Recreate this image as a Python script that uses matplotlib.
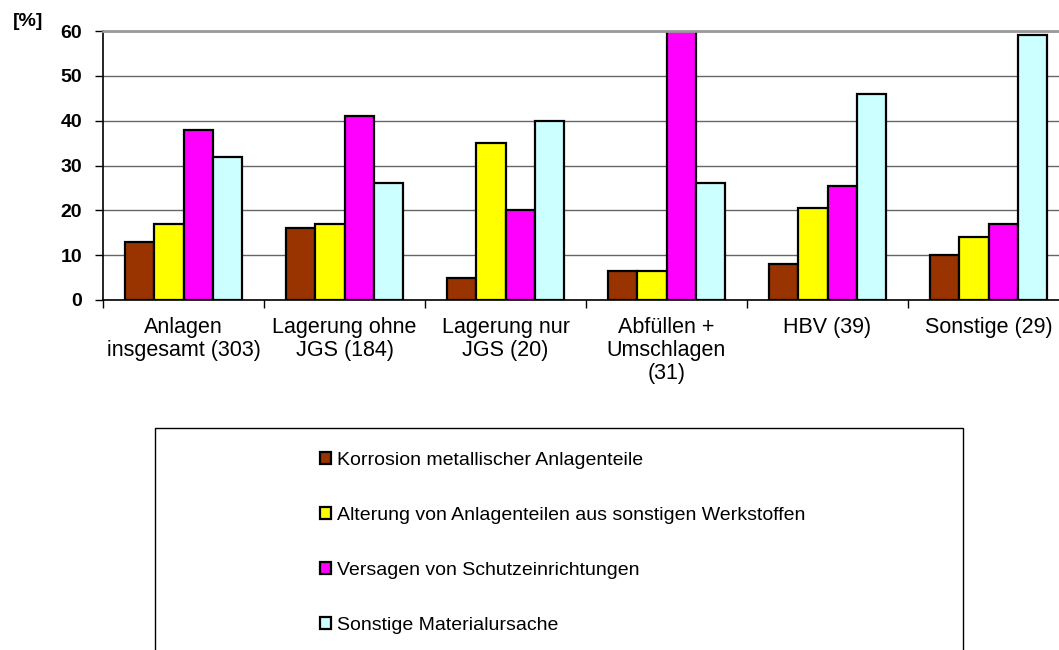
import numpy as np
import matplotlib
matplotlib.use("Agg")
import matplotlib.pyplot as plt
from matplotlib.patches import Rectangle

plt.rcParams['font.family'] = ['Liberation Sans', 'DejaVu Sans']

# data
categories = ['Anlagen\ninsgesamt (303)', 'Lagerung ohne\nJGS (184)', 'Lagerung nur\nJGS (20)',
              'Abfüllen +\nUmschlagen\n(31)', 'HBV (39)', 'Sonstige (29)']
series_names = ['Korrosion metallischer Anlagenteile',
                'Alterung von Anlagenteilen aus sonstigen Werkstoffen',
                'Versagen von Schutzeinrichtungen',
                'Sonstige Materialursache']
korrosion = [13, 16, 5, 6.5, 8, 10]
alterung = [17, 17, 35, 6.5, 20.5, 14]
schutz = [38, 41, 20, 67, 25.5, 17]   # Abfüllen bar runs off the top of the axis
sonstige = [32, 26, 40, 26, 46, 59]
colors = ['#993300', '#FFFF00', '#FF00FF', '#CCFFFF']

values = [korrosion, alterung, schutz, sonstige]

fig = plt.figure(figsize=(10.59, 6.5), dpi=100)
ax = fig.add_axes([103 / 1059, 1 - 300 / 650, 966 / 1059, 269 / 650])

x = np.arange(len(categories))
w = 0.183
offsets = (np.arange(4) - 1.5) * w
for vals, off, c, name in zip(values, offsets, colors, series_names):
    ax.bar(x + off, vals, width=w, color=c, edgecolor='black', linewidth=1.6, label=name)

ax.set_xlim(-0.5, len(categories) - 0.5)
ax.set_ylim(0, 60)
ax.set_yticks(np.arange(0, 61, 10))
ax.set_axisbelow(True)
ax.yaxis.grid(True, color='#666666', linewidth=1.0)

ax.set_xticks(x)
ax.set_xticklabels(categories, fontsize=15.5, linespacing=1.15)
ax.set_xticks(np.arange(-0.5, len(categories)), minor=True)
ax.tick_params(axis='x', which='major', length=0, pad=12)
ax.tick_params(axis='x', which='minor', length=6, width=1, direction='out')
ax.tick_params(axis='y', length=6, width=1, direction='out', pad=9, labelsize=14)
for lab in ax.get_yticklabels():
    lab.set_fontweight('bold')

ax.spines['right'].set_visible(False)
ax.spines['top'].set_color('#999999')
ax.spines['top'].set_linewidth(2)
ax.spines['left'].set_linewidth(1.2)
ax.spines['bottom'].set_linewidth(1.2)

fig.text(13 / 1059, 1 - 22 / 650, '[%]', fontsize=14, fontweight='bold', va='center', ha='left')

# legend box (runs past bottom of figure)
fig.patches.append(Rectangle((155 / 1059, -0.05), (963 - 155) / 1059, 1 - 428 / 650 + 0.05,
                             transform=fig.transFigure, facecolor='white', edgecolor='black',
                             linewidth=1.0, zorder=0))
fig.legend(loc='upper left', bbox_to_anchor=(320 / 1059, 1 - 452 / 650), frameon=False,
           fontsize=14, handlelength=0.55, handleheight=0.55, handletextpad=0.3,
           labelspacing=1.95, borderpad=0, borderaxespad=0)

fig.savefig('out.png', dpi=100)
